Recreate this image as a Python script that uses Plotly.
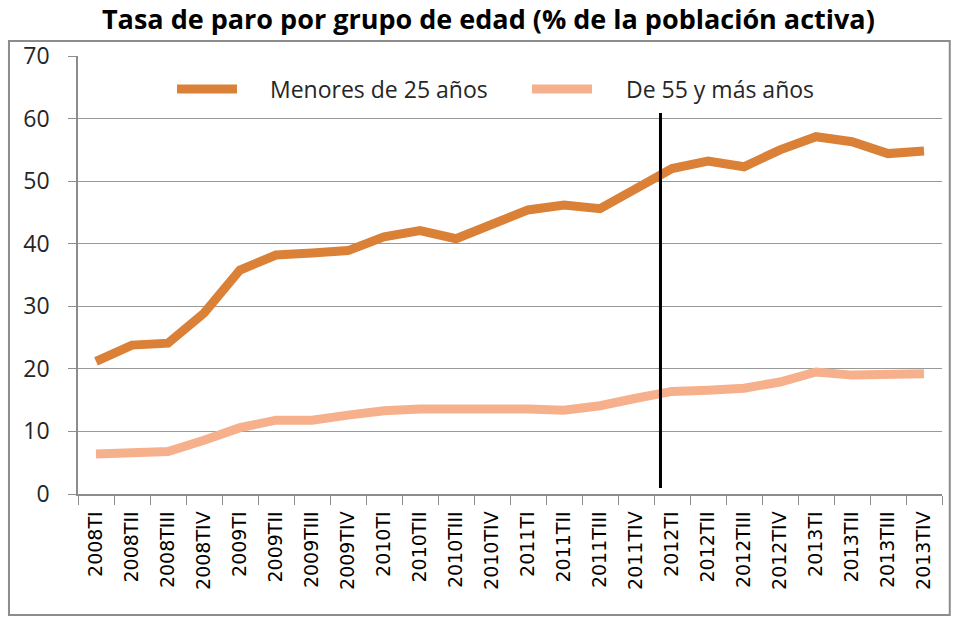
import plotly.graph_objects as go

quarters = ["2008TI", "2008TII", "2008TIII", "2008TIV",
            "2009TI", "2009TII", "2009TIII", "2009TIV",
            "2010TI", "2010TII", "2010TIII", "2010TIV",
            "2011TI", "2011TII", "2011TIII", "2011TIV",
            "2012TI", "2012TII", "2012TIII", "2012TIV",
            "2013TI", "2013TII", "2013TIII", "2013TIV"]
menores_25 = [21.2, 23.8, 24.1, 28.9, 35.8, 38.2, 38.5, 38.9,
              41.1, 42.1, 40.8, 43.0, 45.4, 46.2, 45.6, 48.8,
              52.0, 53.2, 52.3, 55.0, 57.1, 56.3, 54.4, 54.8]
mayores_55 = [6.4, 6.5, 6.8, 8.6, 10.6, 11.8, 11.8, 12.6,
              13.3, 13.6, 13.6, 13.8, 13.6, 13.4, 14.1, 15.3,
              16.4, 16.6, 16.9, 17.9, 19.5, 19.0, 19.0, 19.2]
series_names = ["Menores de 25 años", "De 55 y más años"]
series_colors = ["#DA8137", "#F6B08B"]
y_ticks = [0, 10, 20, 30, 40, 50, 60, 70]
marker_x = 15.68          # vertical separator just before 2012TI
marker_y = [0.96, 60.9]

fig = go.Figure()
for name, vals, col in zip(series_names, [menores_25, mayores_55], series_colors):
    fig.add_trace(go.Scatter(x=quarters, y=vals, mode="lines", name=name,
                             line=dict(color=col, width=9), showlegend=False))

fig.add_shape(type="line", xref="x", yref="y",
              x0=marker_x, x1=marker_x, y0=marker_y[0], y1=marker_y[1],
              line=dict(color="black", width=3))
# outer chart border
fig.add_shape(type="rect", xref="paper", yref="paper",
              x0=-0.0799, x1=1.009, y0=-0.276, y1=1.034,
              line=dict(color="#8C8C8C", width=2), layer="below")

# legend (drawn manually to get long keys)
leg_line_x = [(0.1146, 0.184), (0.5255, 0.5949)]
leg_text_x = [0.2199, 0.6319]
leg_y = 0.9247
for name, col, (lx0, lx1), tx in zip(series_names, series_colors, leg_line_x, leg_text_x):
    fig.add_shape(type="line", xref="paper", yref="paper",
                  x0=lx0, x1=lx1, y0=leg_y, y1=leg_y,
                  line=dict(color=col, width=9))
    fig.add_annotation(xref="paper", yref="paper", x=tx, y=leg_y,
                       xanchor="left", yanchor="middle", showarrow=False,
                       text=name, font=dict(family="Open Sans", size=23, color="#262626"))

fig.update_layout(
    width=958, height=617,
    margin=dict(l=78, r=16, t=56, b=123),
    paper_bgcolor="white", plot_bgcolor="white",
    title=dict(text="<b>Tasa de paro por grupo de edad (% de la población activa)</b>",
               x=0.475, xref="paper", xanchor="center",
               y=0.9676, yanchor="middle",
               font=dict(family="Open Sans", size=27, color="black")),
    showlegend=False,
)
fig.update_xaxes(type="category", showgrid=False, showline=True,
                 linecolor="#8C8C8C", linewidth=1.5,
                 ticks="outside", tickson="boundaries", ticklen=9,
                 tickcolor="#8C8C8C", tickangle=-90, ticklabelstandoff=8,
                 tickfont=dict(family="DejaVu Sans", size=19, color="black"),
                 range=[-0.5, 23.5], automargin=False)
fig.update_yaxes(range=[0, 70], tickvals=y_ticks, showgrid=True,
                 gridcolor="#999999", gridwidth=1.2, showline=True,
                 linecolor="#8C8C8C", linewidth=1.5, ticks="outside",
                 ticklen=8, tickcolor="#8C8C8C", zeroline=False,
                 ticklabelstandoff=14, automargin=False,
                 tickfont=dict(family="Open Sans", size=23, color="#262626"))

fig.write_html("out.html", config={"displayModeBar": False},
               post_script="document.body.style.margin='0px';document.body.style.overflow='hidden';")
